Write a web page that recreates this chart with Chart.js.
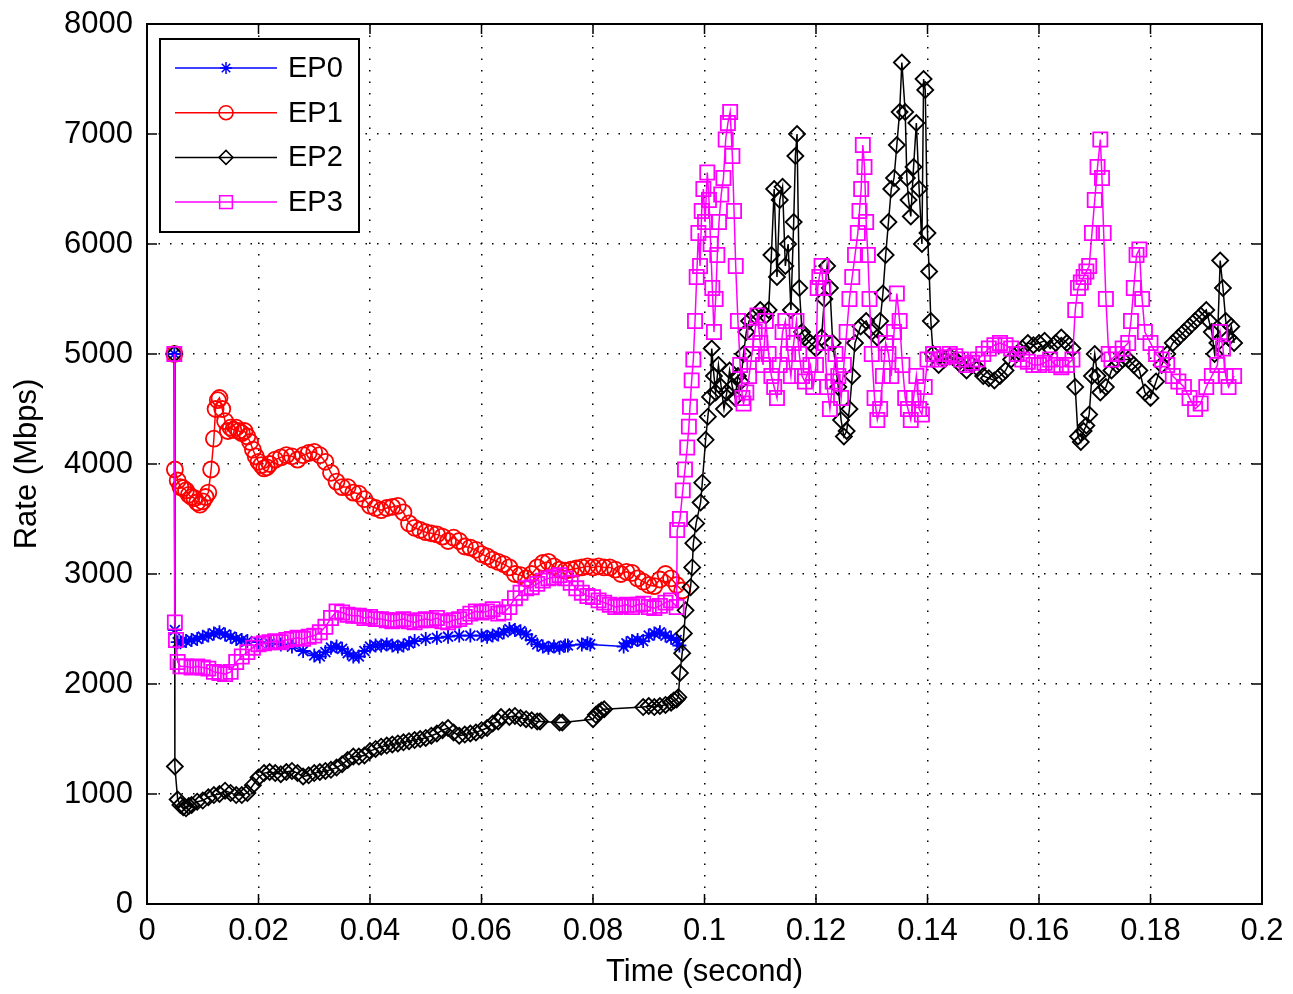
<!DOCTYPE html>
<html>
<head>
<meta charset="utf-8">
<script src="https://cdn.jsdelivr.net/npm/chart.js@4.4.1/dist/chart.umd.min.js"></script>
<style>
  html, body { margin: 0; padding: 0; background: #fff; }
  #wrap { width: 1293px; height: 994px; }
</style>
</head>
<body>
<div id="wrap"><canvas id="rateChart" width="1293" height="994"></canvas></div>
<script>
const seriesNames = ["EP0", "EP1", "EP2", "EP3"];
const seriesColors = ["#0000ff", "#ff0000", "#000000", "#ff00ff"];
const seriesMarkers = ["star", "circle", "rectRot", "rect"];
const markerSizes = [7, 8, 8, 10];

const xTickLabels = ["0", "0.02", "0.04", "0.06", "0.08", "0.1", "0.12", "0.14", "0.16", "0.18", "0.2"];
const yTickLabels = ["0", "1000", "2000", "3000", "4000", "5000", "6000", "7000", "8000"];

// EP0
const ep0Time = [0.0049, 0.005, 0.0055, 0.006, 0.007, 0.008, 0.009, 0.010, 0.011, 0.012,
  0.013, 0.014, 0.015, 0.016, 0.017, 0.018, 0.020, 0.022, 0.024, 0.026,
  0.028, 0.030, 0.031, 0.032, 0.033, 0.034, 0.035, 0.036, 0.037, 0.038,
  0.039, 0.040, 0.041, 0.042, 0.043, 0.044, 0.045, 0.046, 0.047, 0.048,
  0.050, 0.052, 0.054, 0.056, 0.058, 0.060, 0.061, 0.062, 0.063, 0.064,
  0.065, 0.066, 0.067, 0.068, 0.069, 0.070, 0.071, 0.072, 0.073, 0.074,
  0.075, 0.0755, 0.078, 0.079, 0.0795, 0.0855, 0.086, 0.087, 0.088, 0.089,
  0.090, 0.091, 0.092, 0.093, 0.094, 0.095, 0.0955];
const ep0Rate = [5000, 2490, 2380, 2380, 2390, 2400, 2410, 2430, 2440, 2460,
  2470, 2450, 2430, 2410, 2400, 2390, 2380, 2370, 2360, 2340,
  2300, 2260, 2250, 2290, 2330, 2340, 2320, 2280, 2250, 2250,
  2300, 2340, 2350, 2350, 2360, 2350, 2340, 2350, 2370, 2390,
  2410, 2420, 2430, 2440, 2440, 2440, 2430, 2440, 2450, 2470,
  2500, 2490, 2480, 2450, 2400, 2360, 2340, 2330, 2340, 2330,
  2350, 2350, 2360, 2370, 2360, 2340, 2370, 2390, 2400, 2390,
  2440, 2460, 2470, 2440, 2420, 2400, 2350];

// EP1
const ep1Time = [0.0049, 0.005, 0.0055, 0.006, 0.0065, 0.007, 0.0075, 0.008, 0.0085, 0.009,
  0.0095, 0.010, 0.0105, 0.011, 0.0115, 0.012, 0.0123, 0.0127, 0.013, 0.0135,
  0.014, 0.0145, 0.015, 0.0155, 0.016, 0.0165, 0.017, 0.0175, 0.018, 0.0185,
  0.019, 0.0195, 0.020, 0.0205, 0.021, 0.0215, 0.022, 0.023, 0.024, 0.025,
  0.026, 0.027, 0.028, 0.029, 0.030, 0.031, 0.032, 0.033, 0.034, 0.035,
  0.036, 0.037, 0.038, 0.039, 0.040, 0.041, 0.042, 0.043, 0.044, 0.045,
  0.046, 0.047, 0.048, 0.049, 0.050, 0.051, 0.052, 0.053, 0.054, 0.055,
  0.056, 0.057, 0.058, 0.059, 0.060, 0.061, 0.062, 0.063, 0.064, 0.065,
  0.066, 0.067, 0.068, 0.069, 0.070, 0.071, 0.072, 0.073, 0.074, 0.075,
  0.076, 0.077, 0.078, 0.079, 0.080, 0.081, 0.082, 0.083, 0.084, 0.085,
  0.086, 0.087, 0.088, 0.089, 0.090, 0.091, 0.092, 0.093, 0.094, 0.095,
  0.096];
const ep1Rate = [5000, 3950, 3850, 3790, 3780, 3760, 3720, 3700, 3690, 3650,
  3630, 3660, 3700, 3740, 3950, 4230, 4500, 4580, 4600, 4500,
  4390, 4300, 4330, 4310, 4330, 4300, 4280, 4300, 4250, 4200,
  4130, 4070, 4020, 3990, 3960, 3970, 4000, 4040, 4060, 4080,
  4070, 4040, 4080, 4100, 4110, 4080, 4020, 3920, 3840, 3790,
  3790, 3740, 3730, 3680, 3620, 3600, 3580, 3600, 3610, 3620,
  3560, 3460, 3420, 3400, 3380, 3370, 3360, 3340, 3300, 3330,
  3300, 3250, 3240, 3220, 3180, 3160, 3130, 3110, 3090, 3060,
  3000, 2990, 2960, 3000, 3060, 3100, 3110, 3070, 3040, 3030,
  3040, 3050, 3060, 3070, 3060, 3070, 3060, 3060, 3040, 3000,
  3020, 3010, 2960, 2930, 2900, 2890, 2950, 3000, 2960, 2900,
  2850];

// EP2
const ep2Time = [0.0049, 0.005, 0.0055, 0.006, 0.0065, 0.007, 0.0075, 0.008, 0.009, 0.010,
  0.011, 0.012, 0.013, 0.014, 0.015, 0.016, 0.017, 0.018, 0.019, 0.020,
  0.021, 0.022, 0.023, 0.024, 0.025, 0.026, 0.027, 0.028, 0.029, 0.030,
  0.031, 0.032, 0.033, 0.034, 0.035, 0.036, 0.037, 0.038, 0.039, 0.040,
  0.041, 0.042, 0.043, 0.044, 0.045, 0.046, 0.047, 0.048, 0.049, 0.050,
  0.051, 0.052, 0.053, 0.054, 0.055, 0.056, 0.057, 0.058, 0.059, 0.060,
  0.061, 0.062, 0.063, 0.0635, 0.065, 0.066, 0.067, 0.068, 0.069, 0.070,
  0.0705, 0.074, 0.0745, 0.080, 0.0805, 0.081, 0.0815, 0.082, 0.089, 0.090,
  0.091, 0.092, 0.093, 0.094, 0.0945, 0.095, 0.0953, 0.0956, 0.096, 0.0963,
  0.0966, 0.0975, 0.0978, 0.098, 0.0985, 0.0993, 0.0996, 0.1002, 0.1006, 0.101,
  0.1013, 0.1017, 0.102, 0.1025, 0.103, 0.1035, 0.104, 0.1045, 0.105, 0.1055,
  0.106, 0.1065, 0.107, 0.1075, 0.108, 0.109, 0.110, 0.111, 0.1115, 0.112,
  0.1125, 0.113, 0.1135, 0.114, 0.1145, 0.115, 0.1155, 0.116, 0.1163, 0.1166,
  0.117, 0.1175, 0.118, 0.119, 0.120, 0.121, 0.1215, 0.122, 0.1225, 0.123,
  0.124, 0.1245, 0.125, 0.1255, 0.126, 0.1265, 0.127, 0.128, 0.129, 0.130,
  0.131, 0.1315, 0.132, 0.1325, 0.133, 0.1335, 0.134, 0.1345, 0.135, 0.1354,
  0.136, 0.1363, 0.1366, 0.137, 0.1375, 0.138, 0.1385, 0.139, 0.1393, 0.1396,
  0.140, 0.1403, 0.1406, 0.141, 0.142, 0.143, 0.144, 0.145, 0.146, 0.147,
  0.148, 0.149, 0.150, 0.151, 0.152, 0.153, 0.154, 0.155, 0.156, 0.157,
  0.158, 0.159, 0.160, 0.161, 0.162, 0.163, 0.164, 0.165, 0.166, 0.1665,
  0.167, 0.1675, 0.168, 0.1685, 0.169, 0.1695, 0.170, 0.1705, 0.171, 0.172,
  0.173, 0.174, 0.175, 0.176, 0.177, 0.178, 0.179, 0.180, 0.181, 0.182,
  0.183, 0.184, 0.185, 0.186, 0.187, 0.188, 0.189, 0.190, 0.1905, 0.191,
  0.1915, 0.192, 0.1925, 0.193, 0.1935, 0.194, 0.1945, 0.195];
const ep2Rate = [5000, 1250, 950, 900, 880, 870, 890, 900, 930, 940,
  970, 990, 1000, 1030, 1010, 990, 990, 1010, 1080, 1150,
  1190, 1200, 1190, 1180, 1200, 1210, 1190, 1160, 1170, 1190,
  1200, 1210, 1220, 1240, 1270, 1310, 1340, 1340, 1350, 1390,
  1410, 1430, 1440, 1450, 1460, 1470, 1480, 1490, 1500, 1510,
  1530, 1550, 1580, 1600, 1560, 1530, 1540, 1550, 1560, 1580,
  1600, 1640, 1660, 1700, 1700, 1710, 1690, 1680, 1670, 1660,
  1660, 1650, 1650, 1680, 1720, 1740, 1760, 1770, 1790, 1800,
  1790, 1800, 1810, 1830, 1850, 1860, 1880, 2100, 2280, 2460,
  2670, 2880, 3060, 3280, 3460, 3650, 3830, 4220, 4430, 4610,
  5050, 4800, 4650, 4900, 4700, 4500, 4650, 4850, 4700, 4600,
  4800, 4750, 5000, 5200, 5300, 5350, 5400, 5350, 5400, 5900,
  6500, 5700, 6400, 6520, 5800, 6000, 5400, 6200, 6800, 7000,
  5600, 5200, 5150, 5100, 5050, 5150, 5500, 5800, 5600, 5100,
  4700, 4400, 4250, 4300, 4500, 4800, 5100, 5250, 5300, 5200,
  5150, 5300, 5550, 5900, 6200, 6500, 6600, 6900, 7200, 7650,
  7200, 6600, 6400, 6250, 6700, 7100, 6500, 6000, 7500, 7400,
  6100, 5750, 5300, 5000, 4900, 4950, 4980, 4950, 4900, 4850,
  4900, 4870, 4800, 4780, 4760, 4800, 4850, 4950, 5000, 5050,
  5100, 5080, 5100, 5120, 5050, 5100, 5150, 5100, 5050, 4700,
  4250, 4200, 4300, 4350, 4450, 4800, 5000, 4800, 4650, 4700,
  4850, 4900, 4950, 4950, 4900, 4850, 4650, 4600, 4750, 4900,
  5000, 5100, 5150, 5200, 5250, 5300, 5350, 5400, 5300, 5200,
  5000, 5100, 5850, 5600, 5300, 5150, 5250, 5100];

// EP3
const ep3Time = [0.0049, 0.005, 0.0052, 0.0055, 0.006, 0.007, 0.008, 0.009, 0.010, 0.011,
  0.012, 0.013, 0.014, 0.015, 0.016, 0.017, 0.018, 0.019, 0.020, 0.021,
  0.022, 0.023, 0.024, 0.025, 0.026, 0.027, 0.028, 0.029, 0.030, 0.031,
  0.032, 0.033, 0.034, 0.035, 0.036, 0.037, 0.038, 0.039, 0.040, 0.041,
  0.042, 0.043, 0.044, 0.045, 0.046, 0.047, 0.048, 0.049, 0.050, 0.051,
  0.052, 0.053, 0.054, 0.055, 0.056, 0.057, 0.058, 0.059, 0.060, 0.061,
  0.062, 0.063, 0.064, 0.065, 0.066, 0.067, 0.068, 0.069, 0.070, 0.071,
  0.072, 0.073, 0.074, 0.075, 0.076, 0.077, 0.078, 0.079, 0.080, 0.081,
  0.082, 0.083, 0.084, 0.085, 0.086, 0.087, 0.088, 0.089, 0.090, 0.091,
  0.092, 0.093, 0.094, 0.095, 0.0951, 0.0956, 0.0961, 0.0965, 0.0969, 0.0972,
  0.0974, 0.0977, 0.098, 0.0983, 0.0986, 0.0989, 0.0992, 0.0995, 0.0998, 0.1001,
  0.1005, 0.1008, 0.1011, 0.1014, 0.1017, 0.102, 0.1023, 0.1026, 0.103, 0.1034,
  0.1038, 0.1042, 0.1046, 0.105, 0.1053, 0.1056, 0.106, 0.1064, 0.1068, 0.107,
  0.1075, 0.108, 0.1085, 0.109, 0.1095, 0.110, 0.1105, 0.111, 0.1115, 0.112,
  0.1125, 0.113, 0.1135, 0.114, 0.1145, 0.115, 0.1155, 0.116, 0.1165, 0.117,
  0.1175, 0.118, 0.119, 0.1195, 0.120, 0.1203, 0.1206, 0.121, 0.1213, 0.1216,
  0.122, 0.1225, 0.123, 0.1235, 0.124, 0.1245, 0.125, 0.1255, 0.126, 0.1265,
  0.127, 0.1275, 0.1278, 0.1281, 0.1284, 0.1287, 0.129, 0.1293, 0.1296, 0.130,
  0.1305, 0.131, 0.1315, 0.132, 0.1325, 0.133, 0.1335, 0.134, 0.1345, 0.135,
  0.1355, 0.136, 0.1365, 0.137, 0.1375, 0.138, 0.1385, 0.139, 0.1395, 0.140,
  0.141, 0.142, 0.143, 0.144, 0.145, 0.146, 0.147, 0.148, 0.149, 0.150,
  0.151, 0.152, 0.153, 0.154, 0.155, 0.156, 0.157, 0.158, 0.159, 0.160,
  0.161, 0.162, 0.163, 0.164, 0.165, 0.166, 0.1665, 0.167, 0.1675, 0.168,
  0.1685, 0.169, 0.1695, 0.170, 0.1705, 0.171, 0.1713, 0.1716, 0.172, 0.1725,
  0.173, 0.174, 0.175, 0.176, 0.1765, 0.177, 0.1775, 0.178, 0.1785, 0.179,
  0.180, 0.181, 0.182, 0.183, 0.184, 0.185, 0.186, 0.187, 0.188, 0.189,
  0.190, 0.191, 0.192, 0.1925, 0.193, 0.1935, 0.194, 0.195];
const ep3Rate = [5000, 2560, 2400, 2200, 2160, 2160, 2150, 2160, 2150, 2140,
  2110, 2100, 2090, 2110, 2200, 2250, 2290, 2330, 2360, 2370,
  2380, 2390, 2380, 2400, 2410, 2420, 2410, 2430, 2440, 2470,
  2520, 2600, 2660, 2650, 2630, 2620, 2620, 2600, 2610, 2590,
  2590, 2580, 2570, 2580, 2590, 2570, 2560, 2580, 2590, 2580,
  2600, 2570, 2560, 2580, 2590, 2610, 2640, 2660, 2650, 2660,
  2680, 2640, 2650, 2700, 2780, 2830, 2870, 2880, 2910, 2940,
  2960, 2970, 2990, 2960, 2920, 2870, 2830, 2800, 2790, 2760,
  2740, 2720, 2700, 2710, 2720, 2700, 2720, 2730, 2700, 2690,
  2710, 2740, 2760, 2700, 3400, 3500, 3760, 3950, 4150, 4340,
  4520, 4760, 4950, 5300, 5700, 6100, 5800, 6300, 6500, 6200,
  6650, 6400, 6000, 5600, 5200, 5500, 5900, 6200, 6450, 6600,
  6950, 7100, 7200, 6800, 6300, 5800, 5300, 4900, 4600, 4550,
  4650, 4800, 5000, 5200, 5350, 5100, 4900, 5300, 5000, 4800,
  4700, 4600, 4900, 5200, 5300, 5000, 4800, 5100, 5300, 5000,
  4800, 4750, 4900, 4700, 4900, 5600, 5700, 5800, 5600, 5100,
  4700, 4500, 4750, 5000, 4800, 4600, 4900, 5200, 5500, 5700,
  5900, 6100, 6300, 6500, 6900, 6700, 6200, 5900, 5500, 5000,
  4600, 4400, 4500, 4800, 5100, 5000, 4800, 5200, 5550, 5300,
  4900, 4600, 4500, 4400, 4600, 4800, 4500, 4450, 4700, 4950,
  5000, 4950, 4970, 5000, 4980, 4950, 4900, 4920, 4950, 5000,
  5050, 5080, 5100, 5080, 5050, 5000, 4950, 4930, 4900, 4900,
  4920, 4950, 4900, 4880, 4900, 4950, 5400, 5600, 5650, 5700,
  5750, 5800, 6100, 6400, 6700, 6950, 6600, 6100, 5500, 5000,
  4950, 5000, 5050, 5100, 5300, 5600, 5900, 5950, 5500, 5200,
  5100, 5000, 4950, 4900, 4800, 4750, 4700, 4600, 4500, 4550,
  4700, 4800, 4900, 5200, 5050, 4800, 4700, 4800];

const seriesTimes = [ep0Time, ep1Time, ep2Time, ep3Time];
const seriesRates = [ep0Rate, ep1Rate, ep2Rate, ep3Rate];

const fontFamily = '"Liberation Sans", Arial, sans-serif';

// box round the plot, with inward ticks on all four sides (matlab style)
const framePlugin = {
  id: "frame",
  afterDatasetsDraw(chart) {
    const { ctx, chartArea: a, scales } = chart;
    ctx.save();
    ctx.strokeStyle = "#000";
    ctx.lineWidth = 1.5;
    ctx.beginPath();
    scales.x.ticks.forEach(t => {
      const px = scales.x.getPixelForValue(t.value);
      ctx.moveTo(px, a.bottom); ctx.lineTo(px, a.bottom - 10);
      ctx.moveTo(px, a.top); ctx.lineTo(px, a.top + 10);
    });
    scales.y.ticks.forEach(t => {
      const py = scales.y.getPixelForValue(t.value);
      ctx.moveTo(a.left, py); ctx.lineTo(a.left + 10, py);
      ctx.moveTo(a.right, py); ctx.lineTo(a.right - 10, py);
    });
    ctx.stroke();
    ctx.lineWidth = 2;
    ctx.strokeRect(a.left, a.top, a.right - a.left, a.bottom - a.top);
    ctx.restore();
  }
};

// legend box in the upper left corner, line + marker like matlab
const legendPlugin = {
  id: "boxLegend",
  afterDraw(chart) {
    const ctx = chart.ctx;
    const left = chart.chartArea.left + 13, top = chart.chartArea.top + 15;
    const w = 199, h = 193;
    ctx.save();
    ctx.fillStyle = "#fff";
    ctx.fillRect(left, top, w, h);
    ctx.strokeStyle = "#000";
    ctx.lineWidth = 2;
    ctx.strokeRect(left, top, w, h);
    seriesNames.forEach((name, i) => {
      const y = top + 29 + i * 44.7;
      ctx.strokeStyle = seriesColors[i];
      ctx.lineWidth = 1.5;
      ctx.beginPath();
      ctx.moveTo(left + 15, y);
      ctx.lineTo(left + 117, y);
      ctx.stroke();
      ctx.fillStyle = "rgba(0,0,0,0)";
      Chart.helpers.drawPoint(ctx, { pointStyle: seriesMarkers[i], radius: markerSizes[i] - 1, rotation: 0, borderWidth: 1.5 }, left + 66, y);
      ctx.fillStyle = "#000";
      ctx.font = "29px " + fontFamily;
      ctx.textBaseline = "middle";
      ctx.fillText(name, left + 128, y + 1);
    });
    ctx.restore();
  }
};

const datasets = seriesNames.map((name, i) => ({
  label: name,
  data: seriesTimes[i].map((t, k) => ({ x: t, y: seriesRates[i][k] })),
  showLine: true,
  borderColor: seriesColors[i],
  borderWidth: 1.5,
  pointStyle: seriesMarkers[i],
  pointRadius: markerSizes[i],
  pointBorderColor: seriesColors[i],
  pointBackgroundColor: "rgba(0,0,0,0)",
  pointBorderWidth: 1.8,
  order: 3 - i
}));

new Chart(document.getElementById("rateChart"), {
  type: "scatter",
  data: { datasets },
  plugins: [framePlugin, legendPlugin],
  options: {
    responsive: false,
    animation: false,
    devicePixelRatio: 1,
    events: [],
    layout: { padding: { top: 24, right: 31, bottom: 0, left: 0 } },
    plugins: { legend: { display: false }, tooltip: { enabled: false } },
    scales: {
      x: {
        type: "linear", min: 0, max: 0.2,
        ticks: {
          stepSize: 0.02, autoSkip: false, maxRotation: 0, padding: 9, color: "#000",
          font: { family: fontFamily, size: 31 },
          callback: v => xTickLabels[Math.round(v / 0.02)]
        },
        grid: { color: "#000", lineWidth: 1.5, drawTicks: false },
        border: { display: false, dash: [1.5, 10] },
        title: { display: true, text: "Time (second)", color: "#000", font: { family: fontFamily, size: 31 }, padding: { top: 0, bottom: 3 } },
        afterFit: s => { s.height = 90; s.paddingLeft = 0; s.paddingRight = 0; }
      },
      y: {
        type: "linear", min: 0, max: 8000,
        ticks: {
          stepSize: 1000, padding: 14, color: "#000",
          font: { family: fontFamily, size: 31 },
          callback: v => yTickLabels[Math.round(v / 1000)]
        },
        grid: { color: "#000", lineWidth: 1.5, drawTicks: false },
        border: { display: false, dash: [1.5, 10] },
        title: { display: true, text: "Rate (Mbps)", color: "#000", font: { family: fontFamily, size: 31 }, padding: { top: 9, bottom: 0 } },
        afterFit: s => { s.width = 147; s.paddingTop = 0; s.paddingBottom = 0; }
      }
    }
  }
});
</script>
</body>
</html>
